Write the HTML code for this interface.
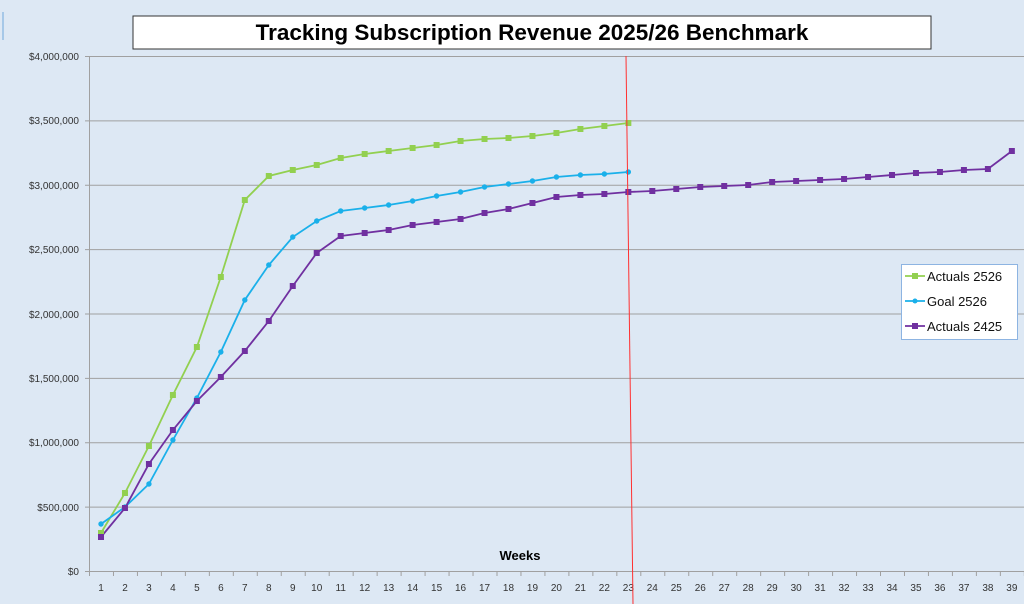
<!DOCTYPE html>
<html><head><meta charset="utf-8"><style>
body{margin:0;background:#dde8f4;}
svg{display:block;font-family:"Liberation Sans",sans-serif;}
</style></head><body>
<svg width="1024" height="604" viewBox="0 0 1024 604">
<rect width="1024" height="604" fill="#dde8f4"/>
<line x1="3" y1="12" x2="3" y2="40" stroke="#6fa8dc" stroke-width="1"/>
<rect x="133" y="16" width="798" height="33" fill="#fff" stroke="#333" stroke-width="1"/>
<text x="532" y="40" text-anchor="middle" font-size="22.5" font-weight="bold" fill="#000">Tracking Subscription Revenue 2025/26 Benchmark</text>
<g stroke="#a0a0a0" stroke-width="1">
<line x1="85" y1="56.5" x2="1024" y2="56.5"/><line x1="85" y1="120.9" x2="1024" y2="120.9"/>
<line x1="85" y1="185.3" x2="1024" y2="185.3"/><line x1="85" y1="249.6" x2="1024" y2="249.6"/>
<line x1="85" y1="314" x2="1024" y2="314"/><line x1="85" y1="378.4" x2="1024" y2="378.4"/>
<line x1="85" y1="442.8" x2="1024" y2="442.8"/><line x1="85" y1="507.1" x2="1024" y2="507.1"/>
<line x1="85" y1="571.5" x2="1024" y2="571.5"/>
<line x1="89.5" y1="56" x2="89.5" y2="576"/>
</g>
<g font-size="10" fill="#333" text-anchor="end">
<text x="79" y="60">$4,000,000</text><text x="79" y="124">$3,500,000</text><text x="79" y="189">$3,000,000</text>
<text x="79" y="253">$2,500,000</text><text x="79" y="318">$2,000,000</text><text x="79" y="382">$1,500,000</text>
<text x="79" y="446">$1,000,000</text><text x="79" y="511">$500,000</text><text x="79" y="575">$0</text>
</g>
<g id="ticks" stroke="#a0a0a0"></g>
<g id="xl" font-size="10" fill="#333" text-anchor="middle"></g>
<text x="520" y="560" text-anchor="middle" font-size="13" font-weight="bold" fill="#000">Weeks</text>
<polyline id="g" fill="none" stroke="#92d050" stroke-width="1.8"/>
<polyline id="b" fill="none" stroke="#1ab0ea" stroke-width="1.8"/>
<polyline id="p" fill="none" stroke="#7030a0" stroke-width="1.8"/>
<g id="mk"></g>
<line x1="626" y1="56" x2="633" y2="604" stroke="#ff3030" stroke-width="1"/>
<rect x="901.5" y="264.5" width="116" height="75" fill="#fff" stroke="#8db4e2"/>
<line x1="905" y1="276" x2="925" y2="276" stroke="#92d050" stroke-width="1.8"/><rect x="912" y="273" width="6" height="6" fill="#92d050"/>
<line x1="905" y1="301" x2="925" y2="301" stroke="#1ab0ea" stroke-width="1.8"/><circle cx="915" cy="301" r="2.5" fill="#1ab0ea"/>
<line x1="905" y1="326" x2="925" y2="326" stroke="#7030a0" stroke-width="1.8"/><rect x="912" y="323" width="6" height="6" fill="#7030a0"/>
<g font-size="13" fill="#111"><text x="927" y="281">Actuals 2526</text><text x="927" y="306">Goal 2526</text><text x="927" y="331">Actuals 2425</text></g>
</svg>
<script>
const X=i=>101+(i)*23.97;
const G=[533,493,446,395,347,277,200,176,170,165,158,154,151,148,145,141,139,138,136,133,129,126,123];
const B=[524,507,484,440,398,352,300,265,237,221,211,208,205,201,196,192,187,184,181,177,175,174,172];
const P=[537,508,464,430,401,377,351,321,286,253,236,233,230,225,222,219,213,209,203,197,195,194,192,191,189,187,186,185,182,181,180,179,177,175,173,172,170,169,151];
const pts=a=>a.map((y,i)=>X(i).toFixed(1)+','+y).join(' ');
document.getElementById('g').setAttribute('points',pts(G));
document.getElementById('b').setAttribute('points',pts(B));
document.getElementById('p').setAttribute('points',pts(P));
let m='';
G.forEach((y,i)=>m+=`<rect x="${X(i)-3}" y="${y-3}" width="6" height="6" fill="#92d050"/>`);
B.forEach((y,i)=>m+=`<circle cx="${X(i)}" cy="${y}" r="2.7" fill="#1ab0ea"/>`);
P.forEach((y,i)=>m+=`<rect x="${X(i)-3}" y="${y-3}" width="6" height="6" fill="#7030a0"/>`);
document.getElementById('mk').innerHTML=m;
let t='',l='';
for(let i=0;i<=39;i++){const x=89.5+i*23.97;t+=`<line x1="${x}" y1="571" x2="${x}" y2="576"/>`;}
for(let i=0;i<39;i++){l+=`<text x="${X(i)}" y="591">${i+1}</text>`;}
document.getElementById('ticks').innerHTML=t;document.getElementById('xl').innerHTML=l;
</script>
</body></html>
